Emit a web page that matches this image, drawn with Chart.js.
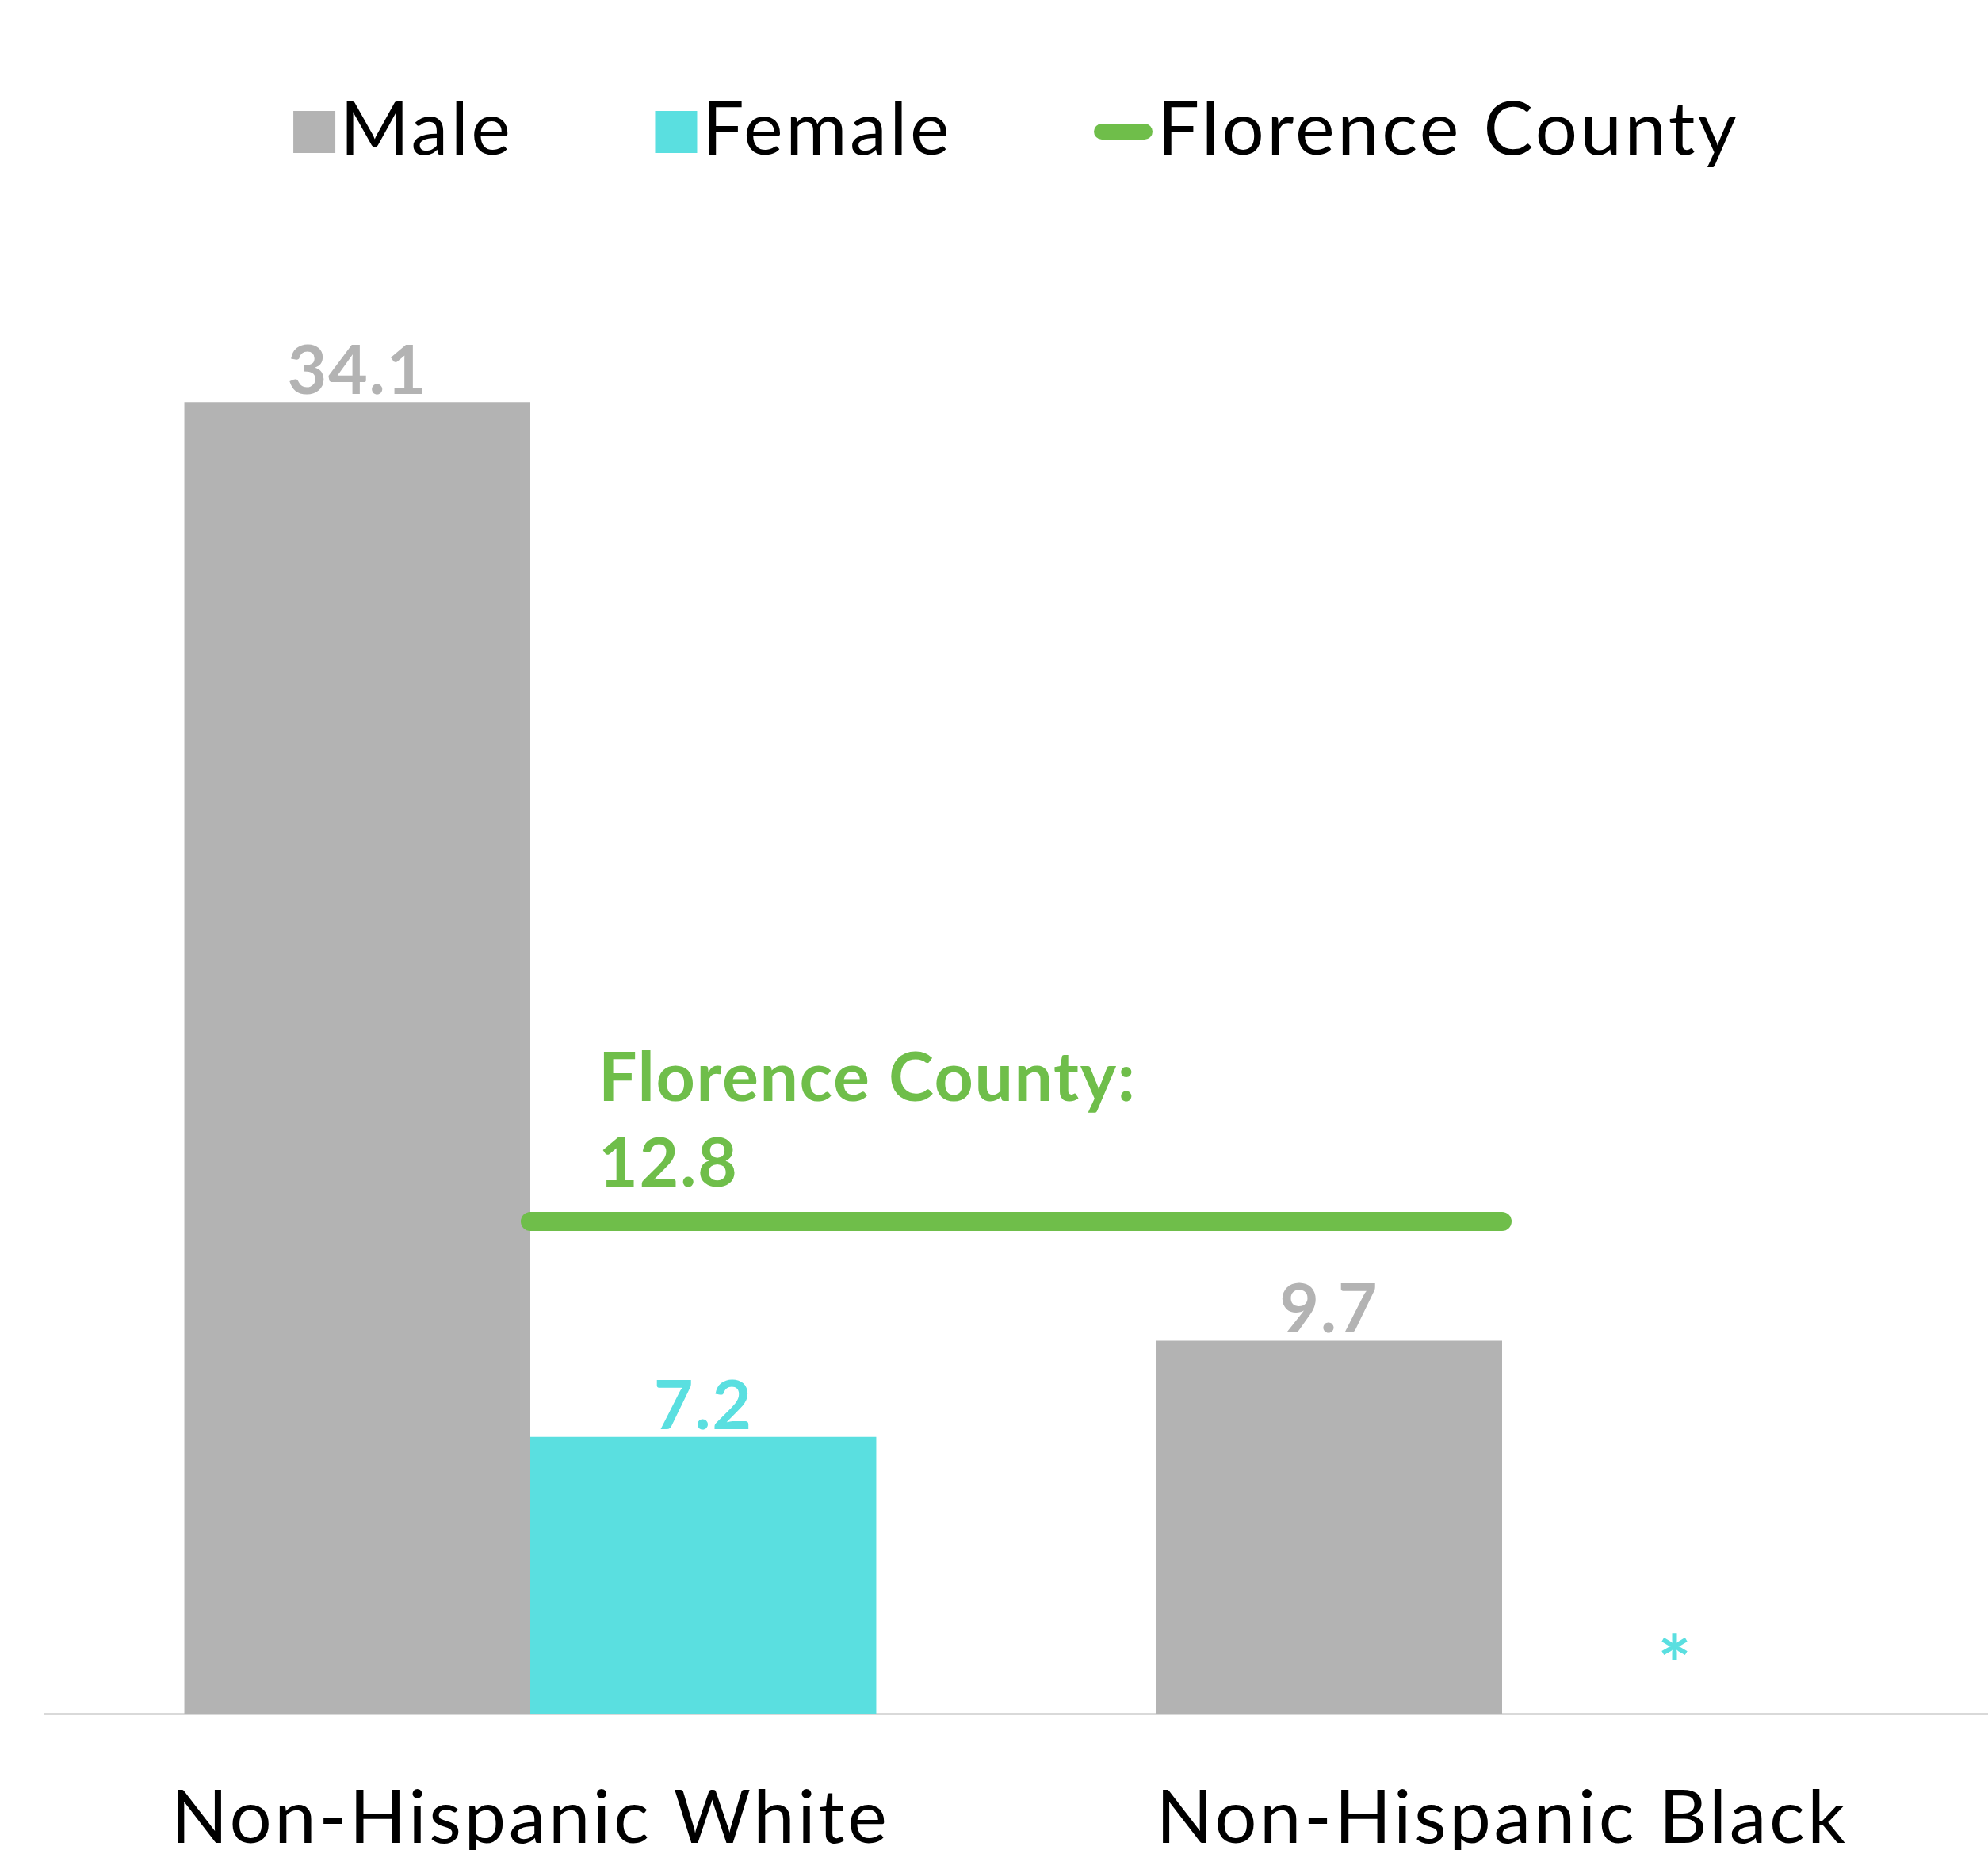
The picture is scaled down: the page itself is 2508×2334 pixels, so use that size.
<!DOCTYPE html>
<html>
<head>
<meta charset="utf-8">
<script src="https://cdn.jsdelivr.net/npm/chart.js@4"></script>
<style>
    body { margin: 0; background: #ffffff; }
    #wrap { width: 2508px; height: 2334px; }
</style>
</head>
<body>
<div id="wrap"><canvas id="rateChart" width="2508" height="2334"></canvas></div>
<script>
// Chart ka data
const categories = ['Non-Hispanic White', 'Non-Hispanic Black'];
const maleValues = [34.1, 9.7];
const femaleValues = [7.2, null]; // null = suppressed, shows "*"
const countyValue = 12.8;
const countyValues = [countyValue, countyValue];

// Colors
const colors = {
    male: '#B3B3B3',
    female: '#5ADFE0',
    county: '#6FBE4A',
    axis: '#D9D9D9',
    text: '#000000'
};

const FONT = 'Lato, "Noto Sans", sans-serif';

document.addEventListener('DOMContentLoaded', () => {
    const ctx = document.getElementById('rateChart');

    // Lato thoda narrow hai, isliye letter spacing
    const wideText = {
        id: 'wideText',
        beforeDraw(chart) {
            chart.ctx.letterSpacing = '3.5px';
        }
    };

    // Bars ke upar value labels
    const valueLabels = {
        id: 'valueLabels',
        afterDatasetsDraw(chart) {
            const c = chart.ctx;
            const yScale = chart.scales.y;
            c.save();
            c.letterSpacing = '1.6px';
            c.font = 'bold 86px ' + FONT;
            c.textAlign = 'center';
            c.textBaseline = 'alphabetic';
            chart.data.datasets.forEach((ds, di) => {
                if (ds.type === 'line') return;
                const meta = chart.getDatasetMeta(di);
                meta.data.forEach((bar, i) => {
                    const v = ds.data[i];
                    c.fillStyle = ds.backgroundColor;
                    if (v === null) {
                        c.font = 'bold 100px ' + FONT;
                        c.fillText('*', bar.x, yScale.getPixelForValue(0) - 26);
                        c.font = 'bold 86px ' + FONT;
                    } else {
                        c.fillText(v.toFixed(1), bar.x, bar.y - 10);
                    }
                });
            });

            // Florence County annotation line ke upar
            const lineMeta = chart.getDatasetMeta(2);
            const p0 = lineMeta.data[0];
            c.fillStyle = colors.county;
            c.textAlign = 'left';
            c.fillText('Florence County:', p0.x + 86, p0.y - 152);
            c.fillText(countyValue.toFixed(1), p0.x + 86, p0.y - 44);
            c.restore();
        }
    };

    // Custom legend (box aur text ke beech chhota gap)
    const topLegend = {
        id: 'topLegend',
        afterDraw(chart) {
            const c = chart.ctx;
            const area = chart.chartArea;
            const items = chart.data.datasets.map(ds => ({
                label: ds.label,
                color: ds.type === 'line' ? ds.borderColor : ds.backgroundColor,
                isLine: ds.type === 'line'
            }));
            c.save();
            c.letterSpacing = '3.5px';
            c.font = '94px ' + FONT;
            c.textBaseline = 'alphabetic';
            const gap = 179;
            const widths = items.map(it => (it.isLine ? 74 : 53) + 6 + c.measureText(it.label).width);
            const total = widths.reduce((a, b) => a + b, 0) + gap * (items.length - 1);
            let x = (area.left + area.right) / 2 - total / 2;
            const cy = 166;
            items.forEach((it, i) => {
                if (it.isLine) {
                    c.strokeStyle = it.color;
                    c.lineWidth = 20;
                    c.lineCap = 'round';
                    c.beginPath();
                    c.moveTo(x + 10, cy);
                    c.lineTo(x + 64, cy);
                    c.stroke();
                    x += 74;
                } else {
                    c.fillStyle = it.color;
                    c.fillRect(x, cy - 26, 53, 53);
                    x += 53;
                }
                c.fillStyle = colors.text;
                c.fillText(it.label, x + 6, 195);
                x += widths[i] - (it.isLine ? 74 : 53) + gap;
            });
            c.restore();
        }
    };

    new Chart(ctx, {
        type: 'bar',
        data: {
            labels: categories,
            datasets: [
                {
                    label: 'Male',
                    data: maleValues,
                    backgroundColor: colors.male,
                    order: 1
                },
                {
                    label: 'Female',
                    data: femaleValues,
                    backgroundColor: colors.female,
                    order: 1
                },
                {
                    type: 'line',
                    label: 'Florence County',
                    data: countyValues,
                    borderColor: colors.county,
                    borderWidth: 24,
                    borderCapStyle: 'round',
                    pointRadius: 0,
                    order: 0
                }
            ]
        },
        options: {
            responsive: false,
            devicePixelRatio: 1,
            animation: false,
            layout: {
                padding: { top: 221, left: 56, right: 0, bottom: -93 }
            },
            datasets: {
                bar: {
                    categoryPercentage: 0.712,
                    barPercentage: 1.0
                }
            },
            plugins: {
                legend: { display: false },
                tooltip: { enabled: false }
            },
            scales: {
                x: {
                    grid: { display: false, drawTicks: false },
                    border: { display: true, color: colors.axis, width: 3 },
                    ticks: {
                        color: colors.text,
                        padding: 76,
                        font: { family: FONT, size: 94 }
                    }
                },
                y: {
                    display: false,
                    min: 0,
                    max: 40
                }
            }
        },
        plugins: [wideText, valueLabels, topLegend]
    });
});
</script>
</body>
</html>
